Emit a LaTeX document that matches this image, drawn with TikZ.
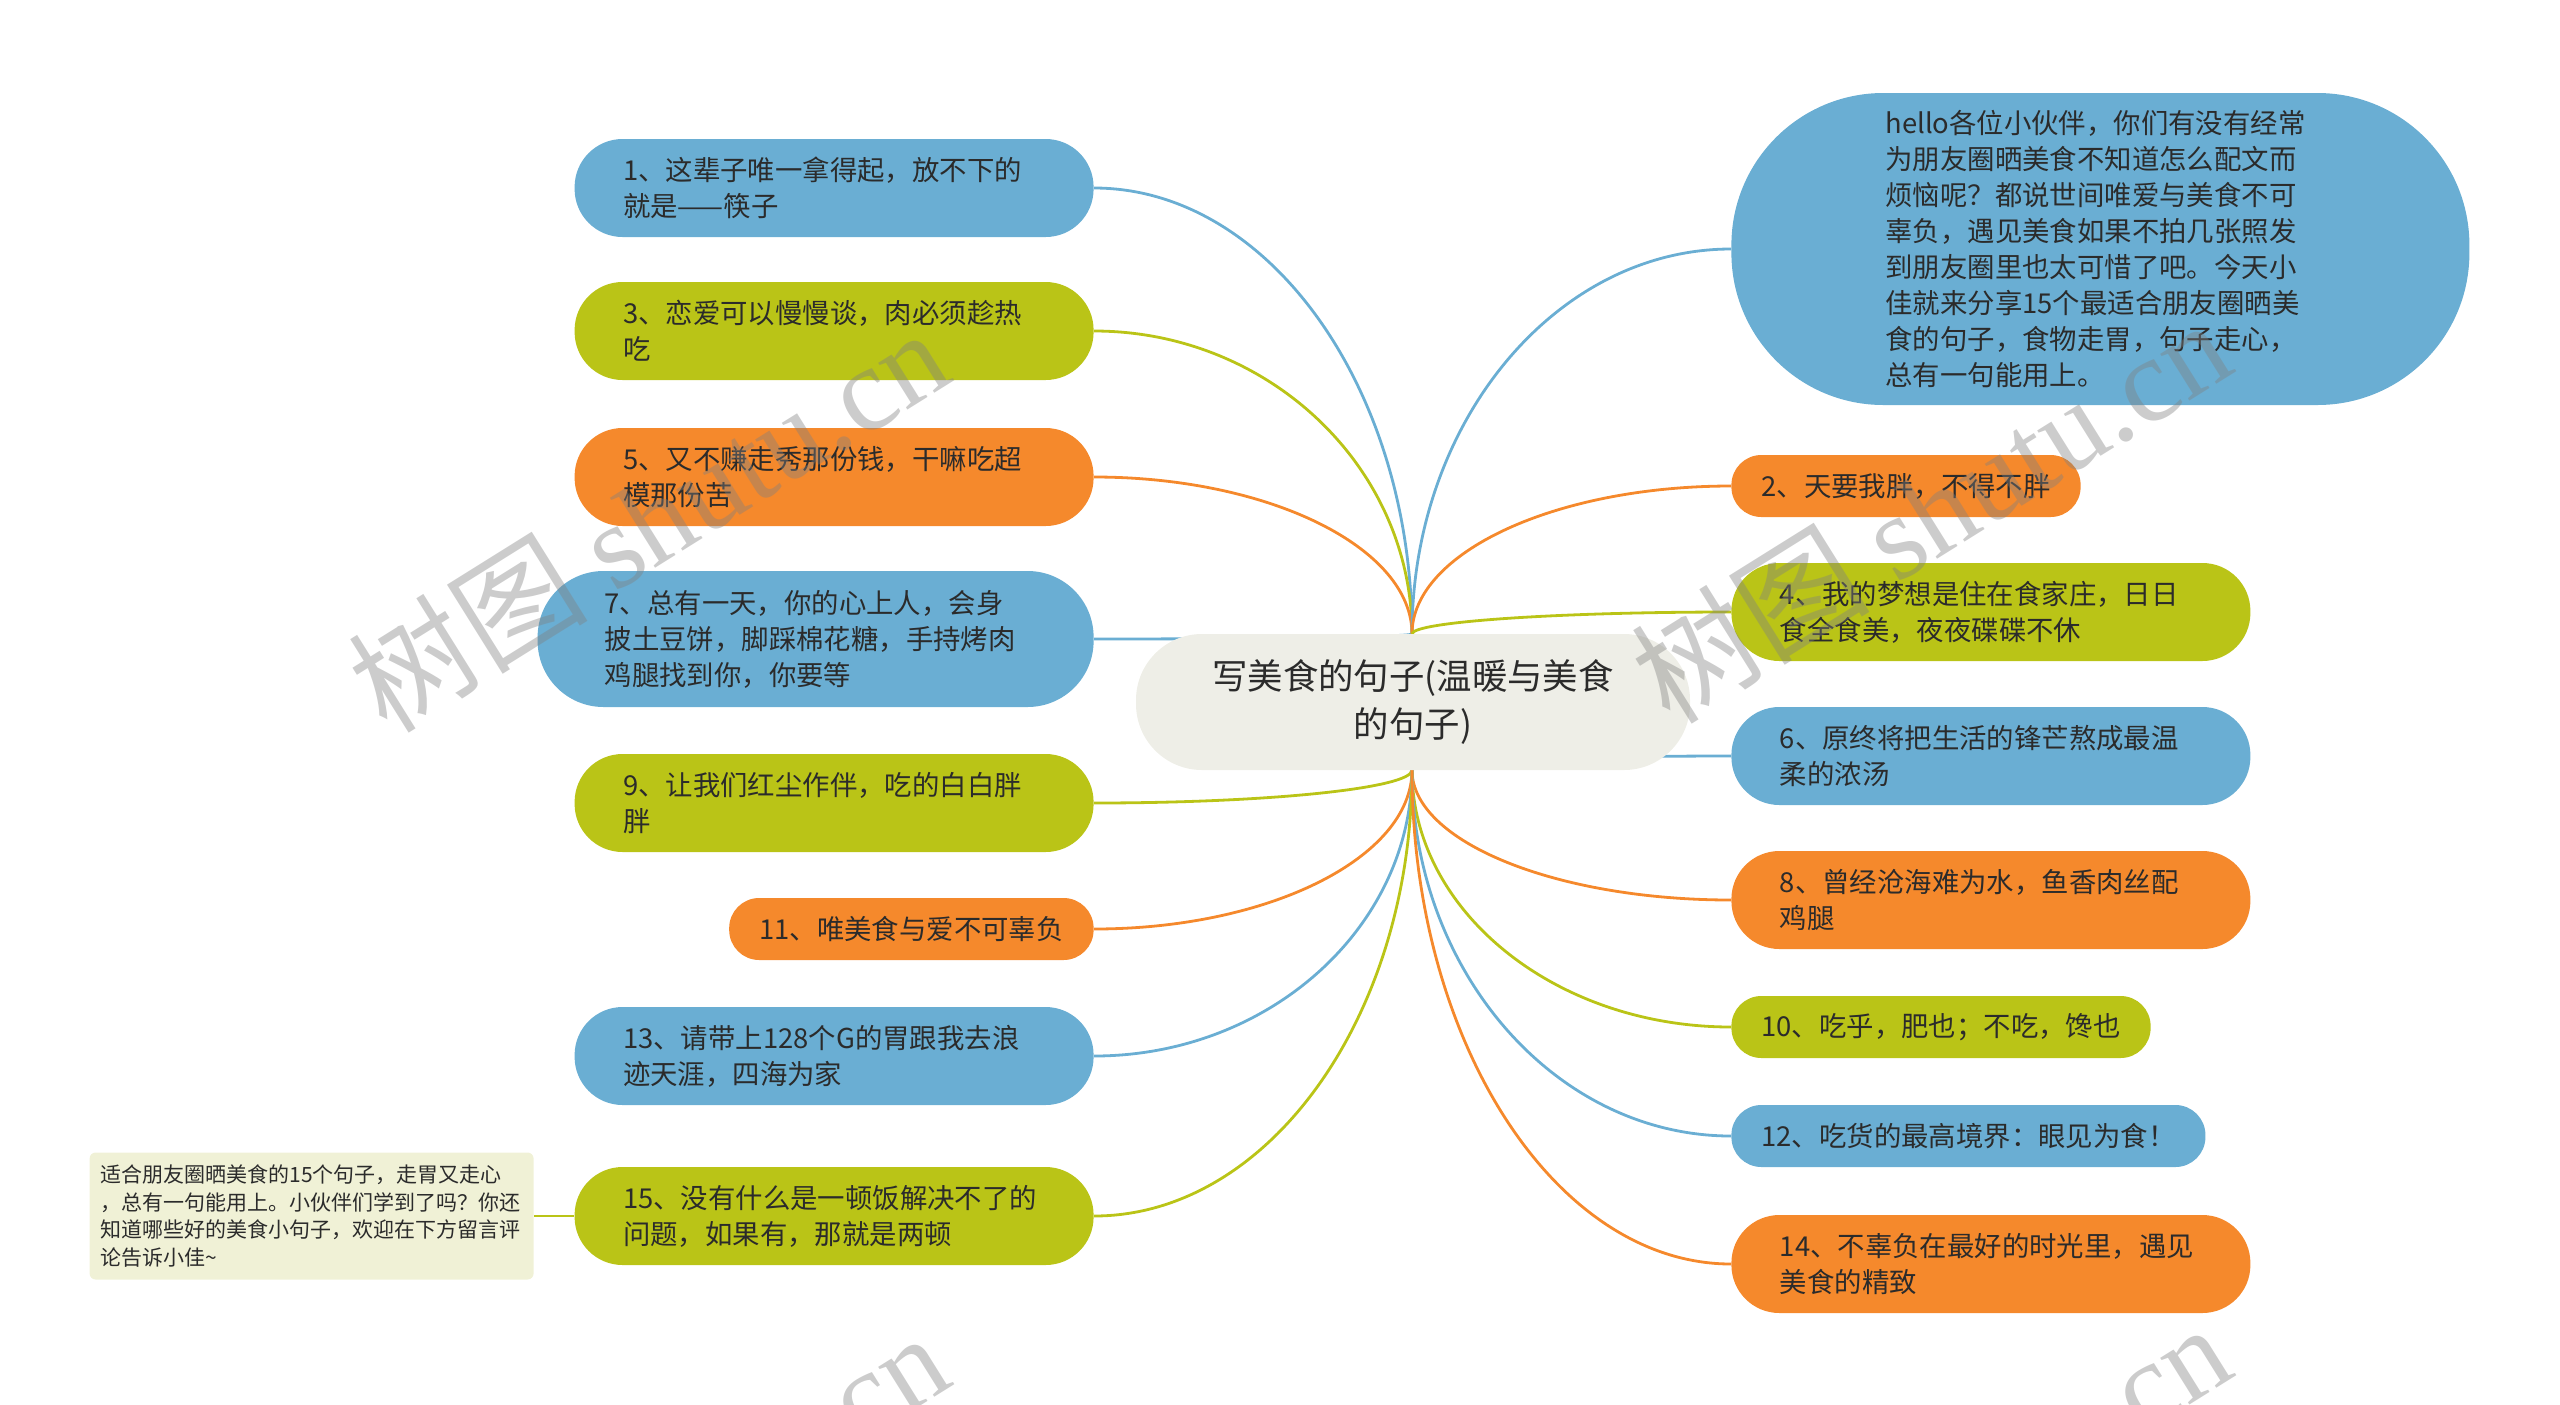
\documentclass[tikz,border=0pt]{standalone}
\usepackage{fontspec}
\setmainfont{Noto Sans CJK SC}
\newfontfamily\wmserif{Liberation Serif}
\usetikzlibrary{calc,backgrounds}
\definecolor{cblue}{HTML}{6AAED3}
\definecolor{cgreen}{HTML}{BAC417}
\definecolor{corange}{HTML}{F5892C}
\definecolor{croot}{HTML}{EEEEE7}
\definecolor{cnote}{HTML}{F0F1D6}
\definecolor{ctext}{HTML}{2B2B2B}
\newcommand\mmfont{\fontsize{13.7pt}{18pt}\selectfont}
\newcommand\mmlink[3]{%
  \coordinate (tmpc) at (#1 -| #2);
  \draw[link=#3] (#1) .. controls ($(#1)!0.55!(tmpc)$) and ($(#2)!0.55!(tmpc)$) .. (#2);}
\begin{document}
\begin{tikzpicture}[x=0.5pt,y=-0.5pt,
  pill/.style={fill=#1, text=ctext, align=left, font=\mmfont, inner ysep=0pt},
  two/.style={minimum height=49pt, rounded corners=24pt, text width=211pt, inner xsep=24.25pt},
  three/.style={minimum height=68pt, rounded corners=33pt, text width=211pt, inner xsep=33.5pt},
  one/.style={minimum height=31pt, rounded corners=15pt, inner xsep=15pt},
  link/.style={draw=#1, line width=1.4pt},
  wm/.style={rotate=32, text=black!50, text opacity=0.4, font=\fontsize{60pt}{60pt}\selectfont}
]
\useasboundingbox (0,0) rectangle (2560,1404);

% root
\node[fill=croot, text=ctext, align=center, rounded corners=33pt, minimum width=277pt,
      minimum height=68pt, text width=215pt, font=\fontsize{17.7pt}{23.7pt}\selectfont]
      (root) at (1413,702) {写美食的句子(温暖与美食\\的句子)};
\coordinate (top) at (1412,634);
\coordinate (bot) at (1412,770);

% left branch
\node[pill=cblue,two,anchor=east] (n1) at (1094,188) {1、这辈子唯一拿得起，放不下的\\就是——筷子};
\node[pill=cgreen,two,anchor=east] (n3) at (1094,331) {3、恋爱可以慢慢谈，肉必须趁热\\吃};
\node[pill=corange,two,anchor=east] (n5) at (1094,477) {5、又不赚走秀那份钱，干嘛吃超\\模那份苦};
\node[pill=cblue,three,anchor=east] (n7) at (1094,639) {7、总有一天，你的心上人，会身\\披土豆饼，脚踩棉花糖，手持烤肉\\鸡腿找到你，你要等};
\node[pill=cgreen,two,anchor=east] (n9) at (1094,803) {9、让我们红尘作伴，吃的白白胖\\胖};
\node[pill=corange,one,anchor=east] (n11) at (1094,929) {11、唯美食与爱不可辜负};
\node[pill=cblue,two,anchor=east] (n13) at (1094,1056) {13、请带上128个G的胃跟我去浪\\迹天涯，四海为家};
\node[pill=cgreen,two,anchor=east] (n15) at (1094,1216) {15、没有什么是一顿饭解决不了的\\问题，如果有，那就是两顿};

% note
\node[fill=cnote, rounded corners=3pt, text=ctext, align=left,
      font=\fontsize{10.5pt}{13.9pt}\selectfont, text width=211pt, inner xsep=5.5pt,
      minimum height=63.5pt, anchor=east] (note) at (534,1216)
      {适合朋友圈晒美食的15个句子，走胃又走心\\，总有一句能用上。小伙伴们学到了吗？你还\\知道哪些好的美食小句子，欢迎在下方留言评\\论告诉小佳\textasciitilde};

% right branch
\node[pill=cblue, anchor=west, minimum height=156pt, rounded corners=76pt, text width=215pt, inner xsep=77pt]
      (intro) at (1731,249)
      {hello各位小伙伴，你们有没有经常\\为朋友圈晒美食不知道怎么配文而\\烦恼呢？都说世间唯爱与美食不可\\辜负，遇见美食如果不拍几张照发\\到朋友圈里也太可惜了吧。今天小\\佳就来分享15个最适合朋友圈晒美\\食的句子，食物走胃，句子走心，\\总有一句能用上。};
\node[pill=corange,one,anchor=west] (n2) at (1731,486) {2、天要我胖，不得不胖};
\node[pill=cgreen,two,anchor=west] (n4) at (1731,612) {4、我的梦想是住在食家庄，日日\\食全食美，夜夜碟碟不休};
\node[pill=cblue,two,anchor=west] (n6) at (1731,756) {6、原终将把生活的锋芒熬成最温\\柔的浓汤};
\node[pill=corange,two,anchor=west] (n8) at (1731,900) {8、曾经沧海难为水，鱼香肉丝配\\鸡腿};
\node[pill=cgreen,one,anchor=west] (n10) at (1731,1027) {10、吃乎，肥也；不吃，馋也};
\node[pill=cblue,one,anchor=west] (n12) at (1731,1136) {12、吃货的最高境界：眼见为食！};
\node[pill=corange,two,anchor=west] (n14) at (1731,1264) {14、不辜负在最好的时光里，遇见\\美食的精致};

\begin{pgfonlayer}{background}
  \mmlink{n1.east}{top}{cblue}
  \mmlink{n3.east}{top}{cgreen}
  \mmlink{n5.east}{top}{corange}
  \mmlink{n7.east}{top}{cblue}
  \mmlink{n9.east}{bot}{cgreen}
  \mmlink{n11.east}{bot}{corange}
  \mmlink{n13.east}{bot}{cblue}
  \mmlink{n15.east}{bot}{cgreen}
  \mmlink{intro.west}{top}{cblue}
  \mmlink{n2.west}{top}{corange}
  \mmlink{n4.west}{top}{cgreen}
  \mmlink{n6.west}{bot}{cblue}
  \mmlink{n8.west}{bot}{corange}
  \mmlink{n10.west}{bot}{cgreen}
  \mmlink{n12.west}{bot}{cblue}
  \mmlink{n14.west}{bot}{corange}
  \draw[link=cgreen] (note.east) -- (n15.west);
\end{pgfonlayer}

% watermarks
\begin{scope}
  \clip (0,0) rectangle (2560,1404);
  \node[wm] (wm1) at (648,519) {树图 {\wmserif shutu.cn}};
  \node[wm] (wm2) at (1930,510) {树图 {\wmserif shutu.cn}};
  \node[wm] (wm3) at (648,1523) {树图 {\wmserif shutu.cn}};
  \node[wm] (wm4) at (1930,1514) {树图 {\wmserif shutu.cn}};
\end{scope}
\end{tikzpicture}
\end{document}
